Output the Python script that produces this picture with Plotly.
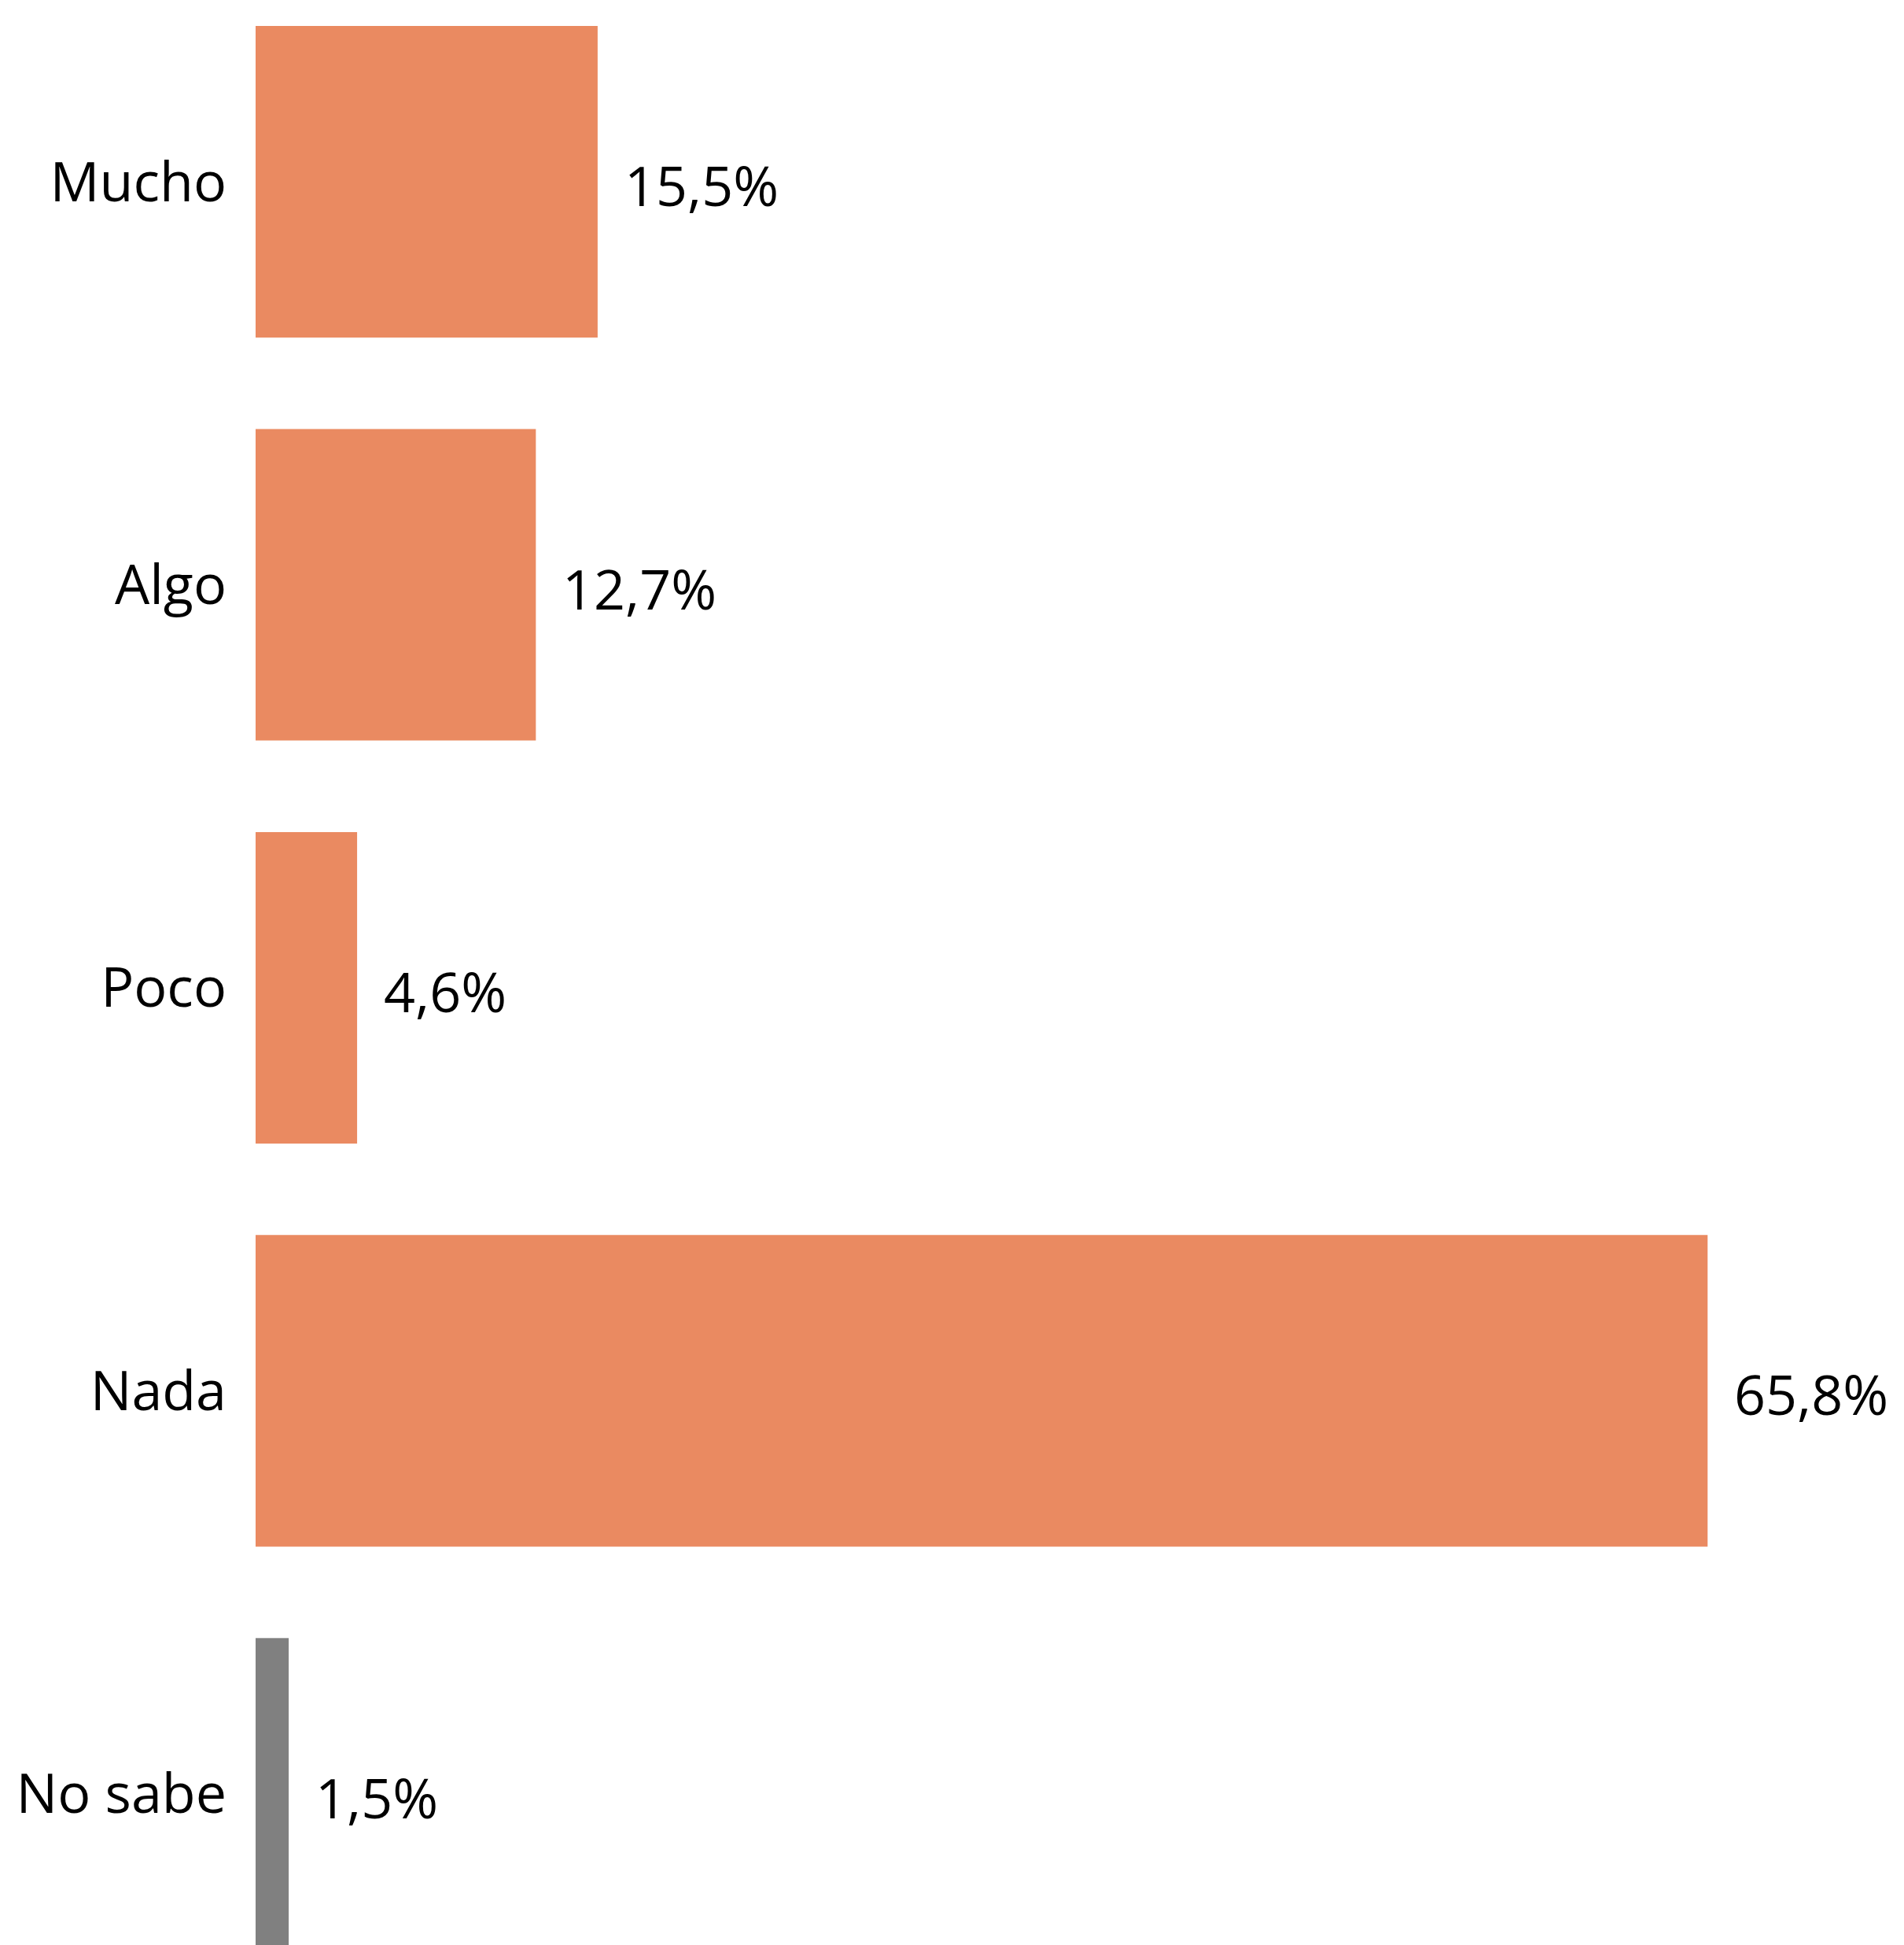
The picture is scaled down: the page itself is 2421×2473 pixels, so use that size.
import plotly.graph_objects as go

categories = ["Mucho", "Algo", "Poco", "Nada", "No sabe"]
values = [15.5, 12.7, 4.6, 65.8, 1.5]
labels = ["15,5%", "12,7%", "4,6%", "65,8%", "1,5%"]
colors = ["#EA8A61", "#EA8A61", "#EA8A61", "#EA8A61", "#808080"]

FONT = "Open Sans"
FS = 70

fig = go.Figure()
fig.add_trace(go.Bar(
    y=categories, x=values, orientation="h",
    marker=dict(color=colors, line=dict(width=0)),
    width=0.773, hoverinfo="skip",
))

for c, v, t in zip(categories, values, labels):
    fig.add_annotation(x=v, y=c, text=t, showarrow=False, xanchor="left",
                       yanchor="middle", xshift=32, yshift=-4,
                       font=dict(family=FONT, size=FS, color="#000000"))

fig.update_layout(
    width=2421, height=2473,
    margin=dict(l=325, r=0, t=0, b=0),
    paper_bgcolor="white", plot_bgcolor="white",
    showlegend=False,
    font=dict(family=FONT, size=FS, color="#000000"),
    xaxis=dict(range=[0, 74.7], visible=False, showgrid=False, zeroline=False),
    yaxis=dict(type="category", categoryorder="array", categoryarray=categories,
               range=[4.375, -0.451], showgrid=False, zeroline=False,
               showline=False, ticks="", ticklabelstandoff=36,
               tickfont=dict(family=FONT, size=FS, color="#000000")),
)

fig.write_html("out.html", config={"displayModeBar": False},
               post_script="document.body.style.margin='0';")
